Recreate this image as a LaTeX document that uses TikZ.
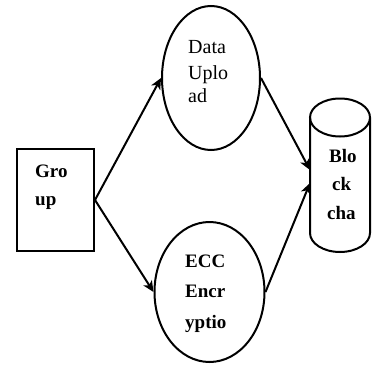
\documentclass[tikz,border=0pt]{standalone}
\usepackage{fontspec}
\setmainfont{Liberation Serif}
\usetikzlibrary{arrows.meta,shapes.geometric}
\begin{document}
\begin{tikzpicture}[x=1pt,y=-1pt,
  shapeline/.style={draw=black,line width=2pt},
  flow/.style={line width=2pt,-{Stealth[length=11pt,width=10pt,inset=3pt]}},
  lbl/.style={anchor=base west,inner sep=0pt,font=\fontsize{20}{20}\selectfont},
  blbl/.style={lbl,font=\fontsize{19}{19}\selectfont\bfseries}]
\useasboundingbox (0,0) rectangle (372,364);

% shapes
\node[shapeline,rectangle,minimum width=77pt,minimum height=102pt,inner sep=0pt] (group) at (55.5,200) {};
\node[shapeline,ellipse,minimum width=98pt,minimum height=144pt,inner sep=0pt] (upload) at (211,78) {};
\node[shapeline,ellipse,minimum width=110pt,minimum height=140pt,inner sep=0pt] (ecc) at (209.5,292) {};

% storage cylinder
\draw[shapeline] (340,117.5) ellipse [x radius=30,y radius=19];
\draw[shapeline] (310,117.5) -- (310,233) arc [start angle=180,end angle=0,x radius=30,y radius=19] -- (370,117.5);
\coordinate (chainA) at (310,170);
\coordinate (chainB) at (310,183);

% labels
\node[blbl] (g1) at (35,177) {Gro};
\node[blbl] (g2) at (35,205) {up};
\node[lbl] (d1) at (188,53) {Data};
\node[lbl] (d2) at (188,79) {Uplo};
\node[lbl] (d3) at (188,102) {ad};
\node[blbl] (e1) at (185,267) {ECC};
\node[blbl] (e2) at (185,297) {Encr};
\node[blbl] (e3) at (185,328) {yptio};
\node[blbl] (b1) at (329,162) {Blo};
\node[blbl] (b2) at (332,190) {ck};
\node[blbl] (b3) at (327,219) {cha};

% connectors
\draw[flow] (group.east) -- (upload.west);
\draw[flow] (group.east) -- (ecc.west);
\draw[flow] (upload.east) -- (chainA);
\draw[flow] (ecc.east) -- (chainB);
\end{tikzpicture}
\end{document}
